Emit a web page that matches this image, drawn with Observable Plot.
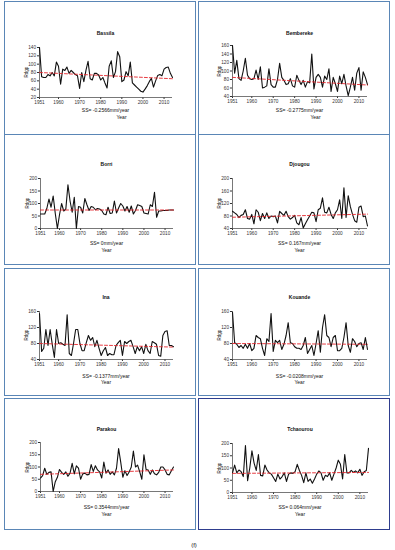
<!DOCTYPE html>
<html><head><meta charset="utf-8">
<script src="https://cdn.jsdelivr.net/npm/d3@7"></script>
<script src="https://cdn.jsdelivr.net/npm/@observablehq/plot@0.6"></script>
<style>
body{margin:0;background:#fff;font-family:"Liberation Sans",Arial,sans-serif;}
#page{position:relative;width:395px;height:550px;overflow:hidden;background:#fff;}
.box{position:absolute;border:1px solid #5a86b6;box-sizing:border-box;}
.t{position:absolute;transform:translate(-50%,-50%);white-space:nowrap;color:#111;line-height:1;}
.yl{position:absolute;transform:translate(-50%,-50%) rotate(-90deg);white-space:nowrap;color:#111;line-height:1;font-size:4.5px;}
</style></head>
<body><div id="page"></div>
<script>
// ---------- data ----------
const stations = ["Bassila","Bembereke","Borri","Djougou","Ina","Kouande","Parakou","Tchaourou"];
const ssLabels = ["SS= -0.2566mm/year","SS= -0.2775mm/year","SS= 0mm/year","SS= 0.167mm/year",
                  "SS= -0.1377mm/year","SS= -0.0208mm/year","SS= 0.3544mm/year","SS= 0.064mm/year"];
const years = d3.range(1951, 2015);
const xTicks = [1951,1960,1970,1980,1990,2000,2010];
const yTicks = [
  [20,40,60,80,100,120,140],
  [40,60,80,100,120,140,160],
  [0,50,100,150,200],
  [40,80,120,160,200],
  [40,80,120,160],
  [40,80,120,160],
  [0,50,100,150,200],
  [0,50,100,150,200]
];
const trendStart = [80, 85, 74, 76, 80, 80, 70, 78];
const trendEnd   = [65, 67, 74, 86, 71, 78, 88, 82];

const bassila = [140,70,68,68,75,72,80,72,105,95,
  52,88,85,93,78,85,80,75,72,42,
  80,58,85,107,65,62,78,78,74,62,
  68,55,43,95,108,68,82,130,118,58,
  62,82,72,105,55,50,45,40,35,33,
  40,48,58,66,45,60,73,75,72,88,
  92,93,78,68];
const bembereke = [160,95,125,82,78,100,130,90,82,80,
  82,102,80,110,60,62,65,105,68,62,
  62,80,118,85,78,68,70,82,65,62,
  90,78,68,78,62,75,72,140,58,85,
  92,85,62,88,80,105,52,85,70,52,
  88,70,92,65,42,62,85,55,95,108,
  55,98,85,68];
const borri = [58,58,58,80,118,85,130,60,0,55,
  100,70,78,175,110,65,125,0,88,85,
  62,120,95,72,88,85,75,80,78,72,
  58,55,85,60,62,110,62,82,100,90,
  70,88,65,90,58,72,95,92,88,62,
  60,58,95,88,145,45,70,70,72,72,
  72,74,74,74];
const djougou = [95,90,85,75,82,85,100,72,70,85,
  55,100,92,65,88,72,90,72,80,78,
  80,58,95,88,82,95,78,70,75,82,
  58,52,75,42,55,68,80,92,90,62,
  100,105,138,92,90,108,85,72,90,100,
  132,72,170,75,145,110,85,65,60,108,
  112,78,80,48];
const ina = [155,60,68,115,75,115,78,45,115,80,
  82,78,75,152,55,50,80,115,115,80,
  62,62,82,100,88,95,72,88,68,50,
  62,70,50,55,52,52,75,82,88,50,
  85,80,85,88,72,55,72,62,72,55,
  78,62,55,85,82,78,50,48,100,110,
  112,75,75,72];
const kouande = [158,82,78,70,75,68,78,68,80,62,
  68,100,95,92,68,50,92,85,155,60,
  88,82,88,65,78,100,132,82,80,72,
  68,68,65,75,95,55,65,75,50,80,
  112,58,120,152,100,95,72,95,100,62,
  62,68,95,132,75,58,92,85,72,80,
  82,65,95,65];
const parakou = [55,65,95,70,78,80,0,40,58,90,
  78,70,80,62,75,115,72,105,95,50,
  72,75,68,70,110,82,105,88,80,55,
  120,75,88,70,80,68,95,175,120,58,
  85,65,80,100,165,100,108,80,50,150,
  90,88,70,88,72,68,78,100,100,88,
  70,68,85,100];
const tchaourou = [80,112,80,92,85,65,192,48,100,170,
  120,90,155,70,68,112,92,80,75,60,
  45,75,55,65,80,45,75,80,78,85,
  115,90,70,40,80,45,55,38,55,75,
  88,80,50,70,65,80,50,75,100,132,
  115,55,155,80,80,90,82,88,80,95,
  70,85,90,180];
const series = [bassila,bembereke,borri,djougou,ina,kouande,parakou,tchaourou];

// ---------- layout ----------
const boxes = [
  [4,1,192,134],[198,1,192,134],
  [4,134,192,131],[198,134,192,131],
  [4,268,192,128],[198,268,192,128],
  [4,398,192,132],[198,398,192,132]
];
const plotX = [[39,172],[232,367],[40,173],[232,367],[39,173],[232,367],[40,173],[232,368]];
const plotY = [[47,97],[45,96],[178,228],[178,228],[311,359],[311,359],[442,491],[443,492]];
const titleY = [33,33,164,164,297,297,429,429];
const ssY = [110,110,243,243,376,376,507,507];
const yearY = [117,117,250,250,382,382,514,514];
const yearDx = [16,16,0,0,0,0,0,0];

const page = document.getElementById("page");
function txt(cls, x, y, s, css){
  const d = document.createElement("div");
  d.className = cls; d.textContent = s;
  d.style.left = x + "px"; d.style.top = y + "px";
  Object.assign(d.style, css || {});
  page.appendChild(d);
}

stations.forEach((name, i) => {
  const b = document.createElement("div");
  b.className = "box";
  Object.assign(b.style, {left: boxes[i][0]+"px", top: boxes[i][1]+"px", width: boxes[i][2]+"px", height: boxes[i][3]+"px"});
  if (i === 7) { b.style.border = "1.5px solid #2e3d8e"; }
  page.appendChild(b);

  const [x0,x1] = plotX[i], [y0,y1] = plotY[i];
  const dom = [yTicks[i][0], yTicks[i][yTicks[i].length-1]];
  const mL = 20, mR = 4, mT = 4, mB = 12;
  const data = years.map((yr, k) => ({year: yr, v: series[i][k]}));
  const trend = [{year: years[0], v: trendStart[i]}, {year: years[years.length-1], v: trendEnd[i]}];
  const chart = Plot.plot({
    width: x1 - x0 + mL + mR,
    height: y1 - y0 + mT + mB,
    marginLeft: mL, marginRight: mR, marginTop: mT, marginBottom: mB,
    style: {fontFamily: "Liberation Sans, Arial, sans-serif", fontSize: "4.7px", color: "#333", background: "transparent", overflow: "visible"},
    x: {domain: [1951, 2014], ticks: xTicks, tickFormat: d => String(d), tickSize: 2, tickPadding: 1.5, label: null},
    y: {domain: dom, ticks: yTicks[i], tickSize: 2, tickPadding: 1.5, label: null},
    marks: [
      Plot.ruleY([dom[0]], {stroke: "#555", strokeWidth: 0.8}),
      Plot.ruleX([1951], {stroke: "#555", strokeWidth: 0.8}),
      Plot.line(data, {x: "year", y: "v", stroke: "#111", strokeWidth: 1.1}),
      Plot.line(trend, {x: "year", y: "v", stroke: "#e3262d", strokeWidth: 0.9, strokeDasharray: "3,2"})
    ]
  });
  Object.assign(chart.style, {position: "absolute", left: (x0 - mL) + "px", top: (y0 - mT) + "px"});
  page.appendChild(chart);

  const cx = (x0 + x1) / 2;
  txt("t", cx, titleY[i], name, {fontSize: "5px", fontWeight: "bold"});
  txt("t", cx, ssY[i], ssLabels[i], {fontSize: "5px"});
  txt("t", cx + yearDx[i], yearY[i], "Year", {fontSize: "5px"});
  txt("yl", x0 - 12, (y0 + y1) / 2, "Rdgp", {});
});
txt("t", 194, 545, "(f)", {fontSize: "6px"});
</script>
</body></html>
